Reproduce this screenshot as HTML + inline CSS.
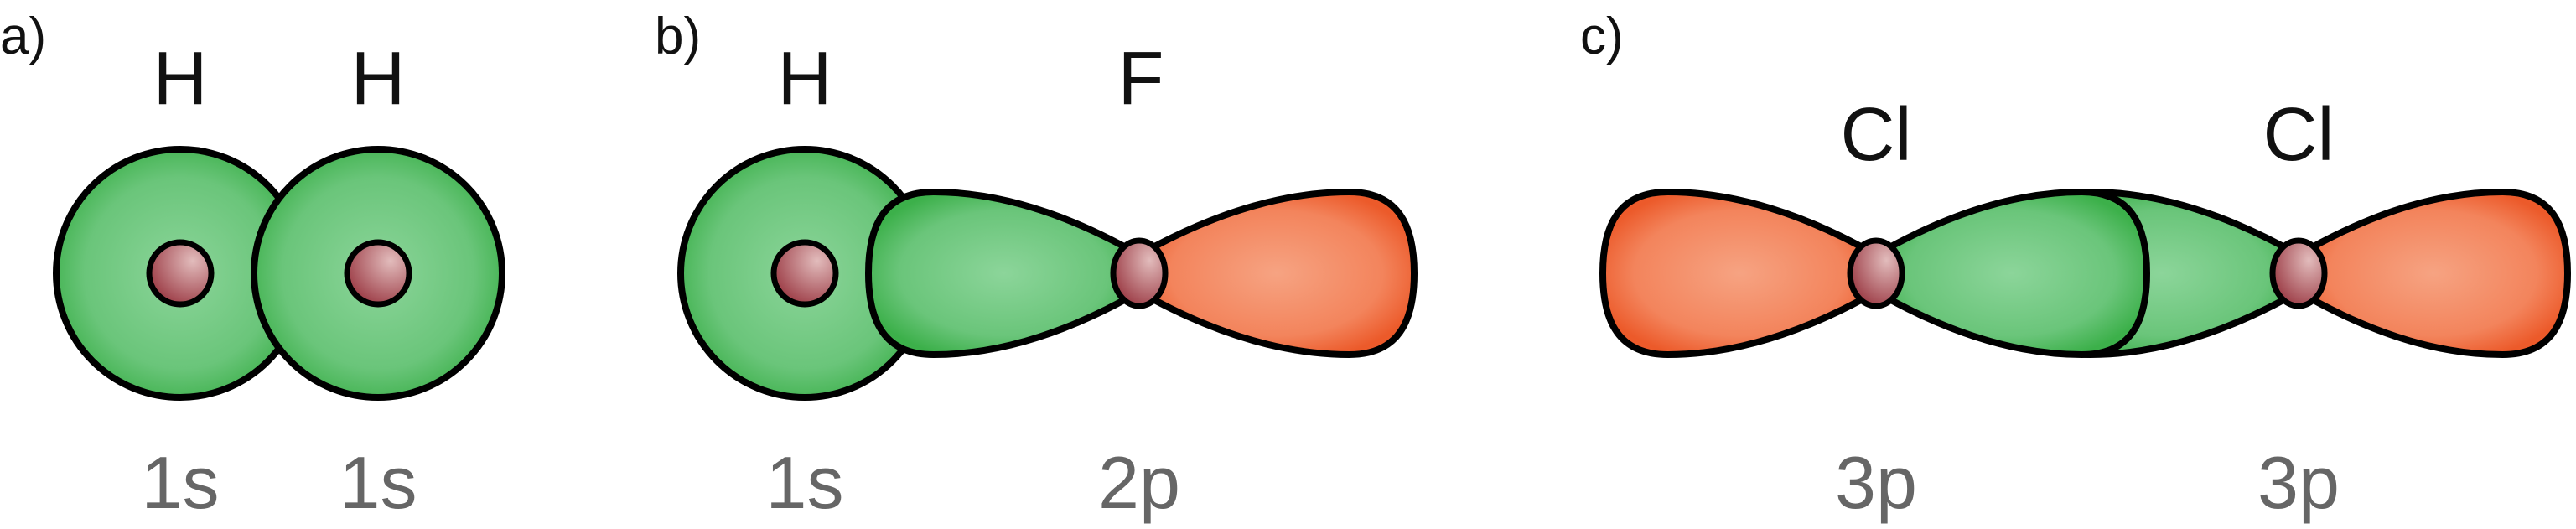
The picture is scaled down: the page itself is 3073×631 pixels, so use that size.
<!DOCTYPE html>
<html><head><meta charset="utf-8"><style>
html,body{margin:0;padding:0;background:#fff;width:3073px;height:631px;overflow:hidden}
svg{display:block}
.lbl{font-family:"Liberation Sans",sans-serif;font-size:90px;fill:#111;text-anchor:middle}
.orb{font-family:"Liberation Sans",sans-serif;font-size:88px;fill:#666;text-anchor:middle}
.pan{font-family:"Liberation Sans",sans-serif;font-size:62px;fill:#111}
</style></head><body>
<svg id="fig" width="3073" height="631" viewBox="0 0 3073 631" xmlns="http://www.w3.org/2000/svg">
<defs>
<radialGradient id="gG" cx="0.5" cy="0.5" r="0.55"><stop offset="0" stop-color="#8cd59a"/><stop offset="0.7" stop-color="#6ac57a"/><stop offset="1" stop-color="#3cb04a"/></radialGradient>
<radialGradient id="gR" cx="0.5" cy="0.5" r="0.55"><stop offset="0" stop-color="#f6a382"/><stop offset="0.7" stop-color="#f3845c"/><stop offset="1" stop-color="#ec5a2a"/></radialGradient>
<radialGradient id="gN" cx="0.7" cy="0.3" r="0.8"><stop offset="0" stop-color="#e2bcbc"/><stop offset="1" stop-color="#9a3842"/></radialGradient>
</defs>
<g id="layer"></g>
</svg>
<script>
const svg=document.getElementById('layer');
const NS='http://www.w3.org/2000/svg';
const CY=326;
const sCircles=[[215,'a'],[451,'a'],[960,'b']];
const lobes=[[1359,-1,323,'gG','b'],[1359,1,328,'gR','b'],[2238,-1,326,'gR','c'],[2742,-1,326,'gG','c'],[2238,1,323,'gG','c'],[2742,1,321,'gR','c']];
const nuclei=[[215,37,37],[451,37,37],[960,37,37],[1359,31,39],[2238,31,39],[2742,31,39]];
const atomLabels=[[215,'H'],[451,'H'],[960,'H'],[1361,'F'],[2238,'Cl'],[2742,'Cl']];
const orbLabels=[[215,'1s'],[451,'1s'],[960,'1s'],[1359,'2p'],[2238,'3p'],[2742,'3p']];
const panels=[[0,'a)'],[781,'b)'],[1885,'c)']];
function mk(t,a){const e=document.createElementNS(NS,t);for(const k in a)e.setAttribute(k,a[k]);svg.appendChild(e);return e;}
sCircles.forEach(([x,p],i)=>{
 const e=mk('circle',{cx:x,cy:CY,r:148,fill:'url(#gG)',stroke:'#000','stroke-width':8});
 
 
});
lobes.forEach(([cx,d,L,g,p],i)=>{
 const h=97,cy=CY;
 const X=v=>cx+d*v;
 const dd=`M${cx} ${cy-22} C${X(L*0.3)} ${cy-h*0.8} ${X(L-h*1.5)} ${cy-h} ${X(L-h*0.8)} ${cy-h} C${X(L-h*0.2)} ${cy-h} ${X(L)} ${cy-h*0.6} ${X(L)} ${cy} C${X(L)} ${cy+h*0.6} ${X(L-h*0.2)} ${cy+h} ${X(L-h*0.8)} ${cy+h} C${X(L-h*1.5)} ${cy+h} ${X(L*0.3)} ${cy+h*0.8} ${cx} ${cy+22} Z`;
 const e=mk('path',{d:dd,fill:'url(#'+g+')',stroke:'#000','stroke-width':8,'stroke-linejoin':'round'});
 
 
});
nuclei.forEach(([x,rx,ry],i)=>{
 const e=mk('ellipse',{cx:x,cy:CY,rx:rx,ry:ry,fill:'url(#gN)',stroke:'#000','stroke-width':7});
 
 
});
atomLabels.forEach(([x,t],i)=>{
 const e=mk('text',{x:x,y:t==='Cl'?191:124,class:'lbl'});e.textContent=t;
 
 
});
orbLabels.forEach(([x,t],i)=>{
 const e=mk('text',{x:x,y:606,class:'orb'});e.textContent=t;
 
 
});
panels.forEach(([x,t])=>{
 const e=mk('text',{x:x,y:64,class:'pan'});e.textContent=t;
 
 
});
</script>
</body></html>
